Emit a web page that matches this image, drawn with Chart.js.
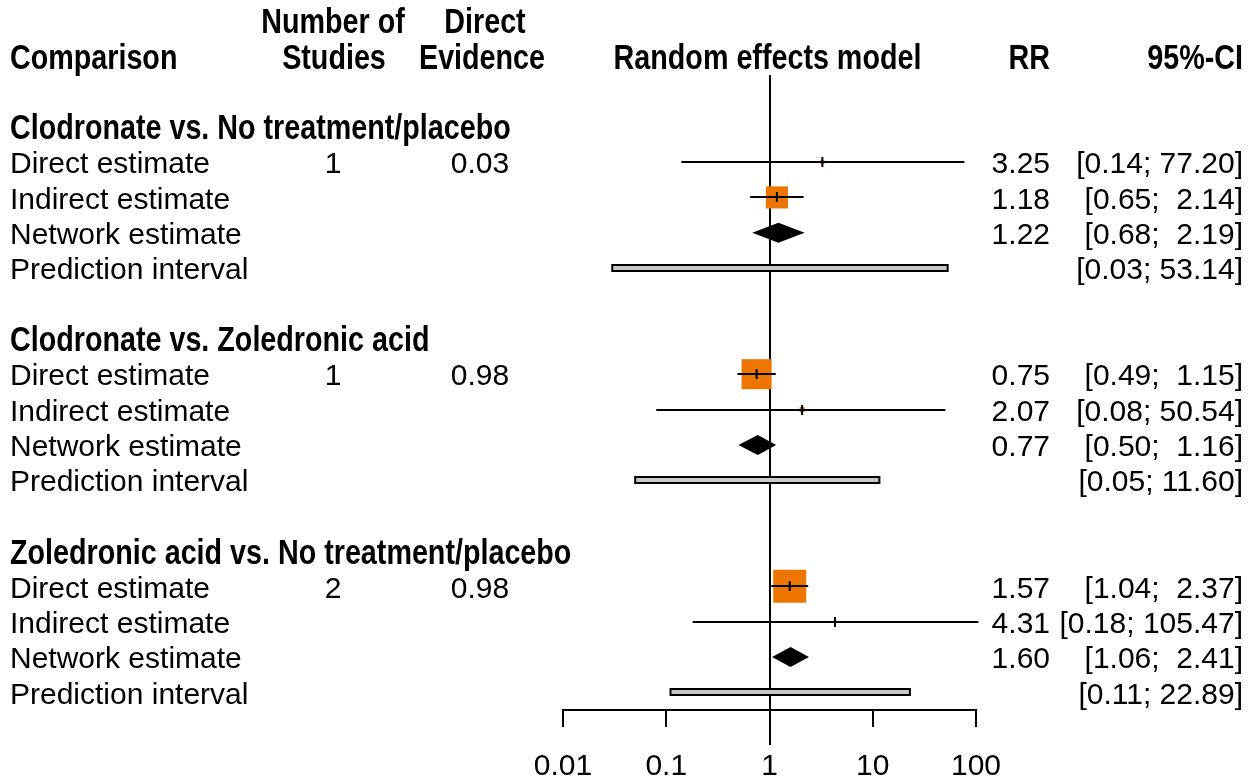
<!DOCTYPE html>
<html>
<head>
<meta charset="utf-8">
<script src="https://cdn.jsdelivr.net/npm/chart.js@4.4.0/dist/chart.umd.min.js"></script>
<style>
html,body{margin:0;padding:0;background:#fff}
#wrap{width:1258px;height:782px;position:relative}
</style>
</head>
<body>
<div id="wrap"><canvas id="forest"></canvas></div>
<script>
// data
const comparisons = ['Clodronate vs. No treatment/placebo', 'Clodronate vs. Zoledronic acid', 'Zoledronic acid vs. No treatment/placebo'];
const rowLabels = ['Direct estimate', 'Indirect estimate', 'Network estimate', 'Prediction interval'];
const nStudies = ['1', '1', '2'];
const directEvidence = ['0.03', '0.98', '0.98'];

const directRR = [3.25, 0.75, 1.57];
const directLo = [0.14, 0.49, 1.04];
const directHi = [77.20, 1.15, 2.37];
const directWeight = [0.12, 0.91, 1.0];

const indirectRR = [1.18, 2.07, 4.31];
const indirectLo = [0.65, 0.08, 0.18];
const indirectHi = [2.14, 50.54, 105.47];
const indirectWeight = [0.67, 0.15, 0.09];

const networkRR = [1.22, 0.77, 1.60];
const networkLo = [0.68, 0.50, 1.06];
const networkHi = [2.19, 1.16, 2.41];

const predLo = [0.03, 0.05, 0.11];
const predHi = [53.14, 11.60, 22.89];

const xTicks = [0.01, 0.1, 1, 10, 100];

// row index helpers (header line 2 = row 0)
const groupRow = g => 2 + 6 * g;

const BOLD = 'bold 35px "Liberation Sans", Arial, sans-serif';
const REG = '30px "Liberation Sans", Arial, sans-serif';
const NARROW = 0.82; // arial narrow look
const ORANGE = '#ee7600';
const MAX_BOX = 33;
const TXT_DY = 3; // text sits a bit lower than the marks

const squarePoints = [];
comparisons.forEach((c, g) => {
  squarePoints.push({x: directRR[g], y: groupRow(g) + 1, w: directWeight[g]});
  squarePoints.push({x: indirectRR[g], y: groupRow(g) + 2, w: indirectWeight[g]});
});

function fmtCI(lo, hi){
  return '[' + lo.toFixed(2) + ';' + (hi < 10 ? '  ' : ' ') + hi.toFixed(2) + ']';
}

function boldText(ctx, txt, x, y, align){
  ctx.save();
  ctx.font = BOLD;
  ctx.textAlign = align;
  ctx.translate(x, y);
  ctx.scale(NARROW, 1);
  ctx.fillText(txt, 0, 0);
  ctx.restore();
}

const forestPlugin = {
  id: 'forest',
  beforeDatasetsDraw(chart){
    const {ctx, scales:{x}} = chart;
    const px = Math.round(x.getPixelForValue(1));
    ctx.save();
    ctx.strokeStyle = '#000'; ctx.lineWidth = 2;
    ctx.beginPath(); ctx.moveTo(px, 75); ctx.lineTo(px, 745); ctx.stroke();
    ctx.restore();
  },
  afterDatasetsDraw(chart){
    const {ctx, scales:{x, y}} = chart;
    const X = v => x.getPixelForValue(v);
    const Y = r => y.getPixelForValue(r);
    const T = r => Y(r) + TXT_DY;
    ctx.save();
    ctx.strokeStyle = '#000'; ctx.fillStyle = '#000'; ctx.lineWidth = 2;

    comparisons.forEach((c, g) => {
      const r0 = groupRow(g);
      // CI lines + estimate tick
      [[directRR, directLo, directHi, 1], [indirectRR, indirectLo, indirectHi, 2]].forEach(([est, lo, hi, k]) => {
        const yy = Math.round(Y(r0 + k));
        ctx.beginPath(); ctx.moveTo(X(lo[g]), yy); ctx.lineTo(X(hi[g]), yy); ctx.stroke();
        ctx.beginPath(); ctx.moveTo(X(est[g]), yy - 5); ctx.lineTo(X(est[g]), yy + 5); ctx.stroke();
      });
      // network diamond
      const yd = Y(r0 + 3);
      ctx.beginPath();
      ctx.moveTo(X(networkLo[g]), yd);
      ctx.lineTo(X(networkRR[g]), yd - 10);
      ctx.lineTo(X(networkHi[g]), yd);
      ctx.lineTo(X(networkRR[g]), yd + 10);
      ctx.closePath(); ctx.fill();
      // prediction interval
      const yp = Math.round(Y(r0 + 4));
      ctx.fillStyle = '#c8c8c8';
      ctx.fillRect(X(predLo[g]), yp - 3, X(predHi[g]) - X(predLo[g]), 6);
      ctx.strokeRect(X(predLo[g]), yp - 3, X(predHi[g]) - X(predLo[g]), 6);
      ctx.fillStyle = '#000';
    });

    // text columns
    ctx.textBaseline = 'middle';
    boldText(ctx, 'Comparison', 10, T(0), 'left');
    boldText(ctx, 'Number of', 333, T(-1), 'center');
    boldText(ctx, 'Studies', 334, T(0), 'center');
    boldText(ctx, 'Direct', 485, T(-1), 'center');
    boldText(ctx, 'Evidence', 482, T(0), 'center');
    boldText(ctx, 'Random effects model', X(1) - 2, T(0), 'center');
    boldText(ctx, 'RR', 1050, T(0), 'right');
    boldText(ctx, '95%-CI', 1243, T(0), 'right');

    comparisons.forEach((c, g) => {
      const r0 = groupRow(g);
      boldText(ctx, c, 10, T(r0), 'left');
      ctx.font = REG; ctx.textAlign = 'left';
      rowLabels.forEach((lab, k) => ctx.fillText(lab, 10, T(r0 + 1 + k)));
      ctx.textAlign = 'center';
      ctx.fillText(nStudies[g], 333, T(r0 + 1));
      ctx.fillText(directEvidence[g], 480, T(r0 + 1));
      ctx.textAlign = 'right';
      ctx.fillText(directRR[g].toFixed(2), 1050, T(r0 + 1));
      ctx.fillText(indirectRR[g].toFixed(2), 1050, T(r0 + 2));
      ctx.fillText(networkRR[g].toFixed(2), 1050, T(r0 + 3));
      ctx.fillText(fmtCI(directLo[g], directHi[g]), 1243, T(r0 + 1));
      ctx.fillText(fmtCI(indirectLo[g], indirectHi[g]), 1243, T(r0 + 2));
      ctx.fillText(fmtCI(networkLo[g], networkHi[g]), 1243, T(r0 + 3));
      ctx.fillText(fmtCI(predLo[g], predHi[g]), 1243, T(r0 + 4));
    });
    ctx.restore();
  }
};

new Chart(document.getElementById('forest'), {
  type: 'scatter',
  data: {
    datasets: [{
      data: squarePoints,
      pointStyle: 'rect',
      pointRadius: c => Math.max(1.5, c.raw.w * MAX_BOX / Math.SQRT2),
      backgroundColor: ORANGE,
      borderWidth: 0
    }]
  },
  options: {
    responsive: true,
    maintainAspectRatio: false,
    animation: false,
    events: [],
    // chart.js counts tick padding twice in the axis height, hence the negative bottom pad
    layout: {autoPadding: false, padding: {left: 563, right: 282, top: 3, bottom: -25}},
    plugins: {legend: {display: false}, tooltip: {enabled: false}},
    scales: {
      x: {
        type: 'logarithmic', min: 0.01, max: 100,
        afterBuildTicks: s => { s.ticks = xTicks.map(v => ({value: v})); },
        ticks: {autoSkip: false, maxRotation: 0, padding: 22, color: '#000',
          font: {family: '"Liberation Sans", Arial, sans-serif', size: 30},
          callback: v => String(v)},
        grid: {drawOnChartArea: false, drawTicks: true, tickLength: 17, color: '#000', lineWidth: 2},
        border: {display: true, color: '#000', width: 2}
      },
      y: {type: 'linear', display: false, reverse: true, bounds: 'data', min: -1.5, max: 18.5}
    }
  },
  plugins: [forestPlugin]
});
</script>
</body>
</html>
